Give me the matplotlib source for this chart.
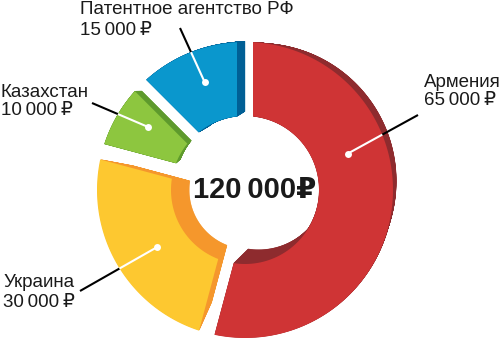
import numpy as np
import matplotlib
matplotlib.use('Agg')
import matplotlib.pyplot as plt
from matplotlib.patches import Polygon

# ---- data ----
labels = ['Армения', 'Украина', 'Казахстан', 'Патентное агентство РФ']
values = [65000, 30000, 10000, 15000]
value_labels = ['65\u2009000\u2009₽', '30\u2009000\u2009₽', '10\u2009000\u2009₽', '15\u2009000\u2009₽']
total_label = '120\u2009000₽'

# ---- style ----
front_colors = ['#CF3435', '#FDC830', '#8DC63F', '#0A97CD']
side_colors = ['#8E2B2E', '#F5972C', '#5E9A2C', '#005F95']
vanish = [(440, 60), (262, 190), (259, 89), (382, 25)]   # extrusion vanishing points
depth = [0.07, 0.2, 0.055, 0.055]
FONT = ['Liberation Sans', 'DejaVu Sans']

W, H = 500, 343
fig = plt.figure(figsize=(W / 100, H / 100), dpi=100)
ax = fig.add_axes([0, 0, 1, 1])
ax.set_xlim(0, W)
ax.set_ylim(H, 0)
ax.axis('off')

C = np.array([245.0, 190.0])
R_out, R_in = 148.0, 74.0
half_gap = 8.0


def pt(theta_deg, r):
    t = np.deg2rad(theta_deg)
    return np.column_stack([C[0] + r * np.cos(t), C[1] - r * np.sin(t)])


def sector(lo, hi):
    do = np.rad2deg(np.arcsin(half_gap / R_out))
    di = np.rad2deg(np.arcsin(half_gap / R_in))
    a_out = np.linspace(lo + do, hi - do, 120)
    a_in = np.linspace(hi - di, lo + di, 80)
    return np.vstack([pt(a_out, R_out), pt(a_in, R_in)])


total = sum(values)
start = 90.0
spans = []
for v in values:
    span = 360.0 * v / total
    spans.append((start - span, start))
    start -= span

shapes = [sector(lo, hi) for lo, hi in spans]

# side faces (extrusion)
for shp, sc, vp, dp in zip(shapes, side_colors, vanish, depth):
    P = np.array(vp, float)
    for t in np.linspace(1, 0, 40)[:-1]:
        s = 1 - dp * t
        pts = P + s * (shp - P)
        ax.add_patch(Polygon(pts, closed=True, facecolor=sc, edgecolor=sc, lw=0.3, zorder=1))

# front faces
for shp, fc in zip(shapes, front_colors):
    ax.add_patch(Polygon(shp, closed=True, facecolor=fc, edgecolor='none', zorder=2))

# leaders
dot_shift = [27, 3, -3, -2]
dot_r = [109, 105, 116, 115]
anchors = [(418, 115), (80, 291), (92, 103), (180, 28)]
for (lo, hi), sh, dr, anc in zip(spans, dot_shift, dot_r, anchors):
    mid = (lo + hi) / 2 + sh
    d = pt(np.array([mid]), dr)[0]
    a = np.array(anc, float)
    ts = np.linspace(0, 1, 2001)
    line = d[None, :] + ts[:, None] * (a - d)[None, :]
    dist = np.hypot(line[:, 0] - C[0], line[:, 1] - C[1])
    k = np.argmax(dist >= R_out)
    edge = line[k]
    ax.plot([edge[0], a[0]], [edge[1], a[1]], color='black', lw=1.5, zorder=3,
            solid_capstyle='butt')
    ax.plot([d[0], edge[0]], [d[1], edge[1]], color='white', lw=1.5, zorder=3,
            solid_capstyle='butt')
    ax.plot([d[0]], [d[1]], 'o', color='white', ms=5, mec='none', zorder=4)

# labels
text_pos = [(424, 87, 105), (3, 287, 307), (1, 97, 115), (80, 13.5, 35)]
for name, vl, (x, b1, b2) in zip(labels, value_labels, text_pos):
    ax.text(x, b1, name, fontsize=13.5, family=FONT, va='baseline', ha='left', color='#1a1a1a')
    ax.text(x, b2, vl, fontsize=13.5, family=FONT, va='baseline', ha='left', color='#1a1a1a')

ax.text(255, 198, total_label, fontsize=21, family=FONT, fontweight='bold',
        va='baseline', ha='center', color='#1a1a1a')

fig.savefig('out.png', dpi=100)
